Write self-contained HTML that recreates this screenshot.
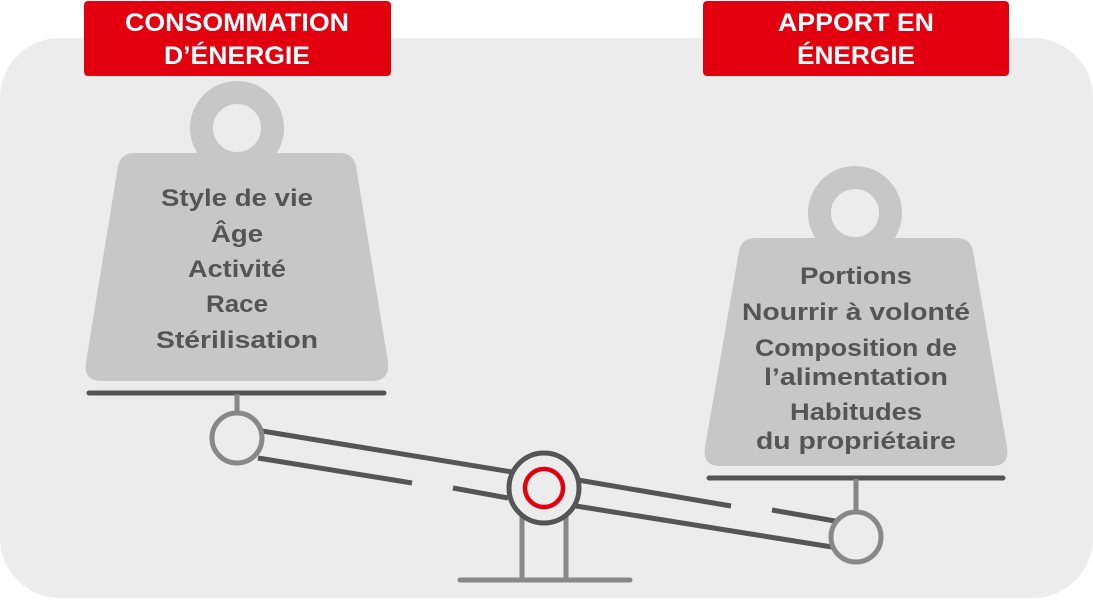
<!DOCTYPE html>
<html><head><meta charset="utf-8"><style>html,body{margin:0;padding:0;background:#fff}svg{display:block}</style></head>
<body>
<svg width="1093" height="600" viewBox="0 0 1093 600" xmlns="http://www.w3.org/2000/svg" font-family="Liberation Sans, sans-serif" font-weight="bold">
<rect x="0" y="38" width="1093" height="560" rx="60" fill="#ececec"/>
<!-- red headers -->
<rect x="84" y="1" width="307" height="75" rx="4" fill="#e2000f"/>
<rect x="703" y="1" width="306" height="75" rx="4" fill="#e2000f"/>
<g fill="#fff" font-size="25" text-anchor="middle">
<text x="237" y="31" textLength="224" lengthAdjust="spacingAndGlyphs">CONSOMMATION</text>
<text x="237" y="64" textLength="146" lengthAdjust="spacingAndGlyphs">D’ÉNERGIE</text>
<text x="856" y="31" textLength="156" lengthAdjust="spacingAndGlyphs">APPORT EN</text>
<text x="856" y="64" textLength="118" lengthAdjust="spacingAndGlyphs">ÉNERGIE</text>
</g>
<!-- left weight -->
<circle cx="237" cy="128" r="35.5" fill="none" stroke="#c6c7c6" stroke-width="23"/>
<path d="M135 153 L340 153 Q353 153 356 166 L388 362 Q390 381 372 381 L101 381 Q83 381 86 362 L118 166 Q121 153 135 153 Z" fill="#c6c7c6"/>
<!-- right weight -->
<circle cx="855" cy="213" r="35.5" fill="none" stroke="#c6c7c6" stroke-width="23"/>
<path d="M755 238 L957 238 Q970 238 973 251 L1007 447 Q1010 466 992 466 L720 466 Q702 466 705 447 L739 251 Q742 238 755 238 Z" fill="#c6c7c6"/>
<g fill="#555" font-size="24" text-anchor="middle">
<text x="237" y="206" textLength="152" lengthAdjust="spacingAndGlyphs">Style de vie</text>
<text x="237" y="242" textLength="52" lengthAdjust="spacingAndGlyphs">Âge</text>
<text x="237" y="277" textLength="98" lengthAdjust="spacingAndGlyphs">Activité</text>
<text x="237" y="312" textLength="62" lengthAdjust="spacingAndGlyphs">Race</text>
<text x="237" y="348" textLength="162" lengthAdjust="spacingAndGlyphs">Stérilisation</text>
<text x="856" y="284" textLength="112" lengthAdjust="spacingAndGlyphs">Portions</text>
<text x="856" y="320" textLength="228" lengthAdjust="spacingAndGlyphs">Nourrir à volonté</text>
<text x="856" y="356" textLength="202" lengthAdjust="spacingAndGlyphs">Composition de</text>
<text x="856" y="385" textLength="184" lengthAdjust="spacingAndGlyphs">l’alimentation</text>
<text x="856" y="420" textLength="132" lengthAdjust="spacingAndGlyphs">Habitudes</text>
<text x="856" y="449" textLength="200" lengthAdjust="spacingAndGlyphs">du propriétaire</text>
</g>
<!-- platforms -->
<g stroke="#555" stroke-width="5" stroke-linecap="round">
<line x1="89" y1="393" x2="384" y2="393"/>
<line x1="709" y1="478" x2="1003" y2="478"/>
</g>
<!-- beams -->
<g stroke="#555" stroke-width="5">
<line x1="262" y1="431" x2="512" y2="472"/>
<line x1="578" y1="480" x2="731" y2="506"/>
<line x1="772" y1="510" x2="835" y2="521"/>
<line x1="258" y1="458" x2="412" y2="483"/>
<line x1="453" y1="488" x2="508" y2="498"/>
<line x1="576" y1="506" x2="832" y2="547"/>
</g>
<!-- stems and pivots -->
<g stroke="#888" stroke-width="5" fill="#ececec">
<line x1="237" y1="394" x2="237" y2="414"/>
<line x1="856" y1="479" x2="856" y2="511"/>
<circle cx="237" cy="438" r="25"/>
<circle cx="856" cy="537" r="25"/>
<line x1="522" y1="515" x2="522" y2="580"/>
<line x1="566" y1="515" x2="566" y2="580"/>
<line x1="460" y1="580" x2="630" y2="580" stroke-linecap="round"/>
</g>
<circle cx="544" cy="488" r="35" fill="#ececec" stroke="#555" stroke-width="5"/>
<circle cx="544" cy="488" r="19" fill="none" stroke="#e2000f" stroke-width="4.5"/>
</svg>
</body></html>
